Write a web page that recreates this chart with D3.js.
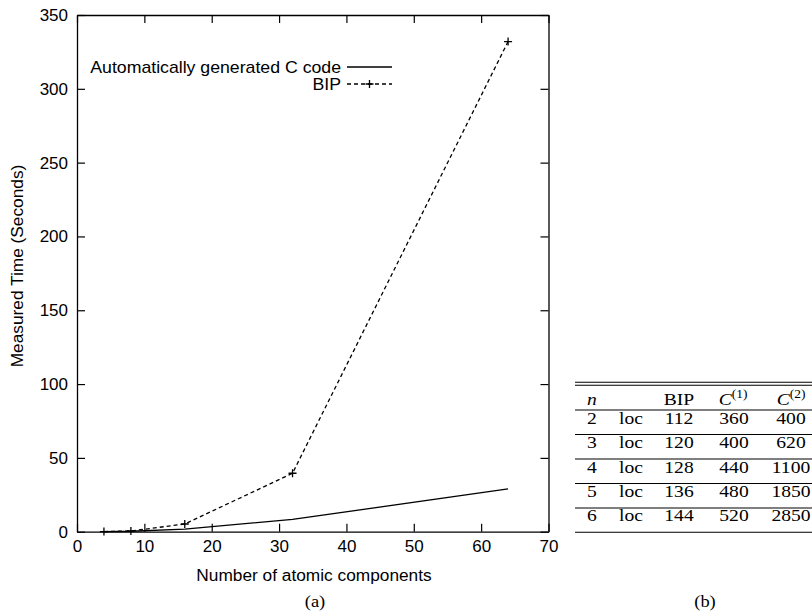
<!DOCTYPE html>
<html>
<head>
<meta charset="utf-8">
<script src="https://cdn.jsdelivr.net/npm/d3@7"></script>
<style>
  body { margin: 0; background: #fff; }
  svg { display: block; }
</style>
</head>
<body>
<div id="chartArea"></div>
<script>
// plot data
const components = [4, 8, 16, 32, 64];
const cCodeTimes = [0.1, 0.3, 1.8, 8.3, 29];
const bipTimes = [0.1, 0.5, 5.2, 39.6, 332];
const xTicks = [0, 10, 20, 30, 40, 50, 60, 70];
const yTicks = [0, 50, 100, 150, 200, 250, 300, 350];
const legendLabels = ["Automatically generated C code", "BIP"];

// table (b)
const tableHead = ["n", "", "BIP", "C(1)", "C(2)"];
const tableN = [2, 3, 4, 5, 6];
const tableLoc = ["loc", "loc", "loc", "loc", "loc"];
const tableBIP = [112, 120, 128, 136, 144];
const tableC1 = [360, 400, 440, 480, 520];
const tableC2 = [400, 620, 1100, 1850, 2850];

const W = 812, H = 613;
const sans = "'Liberation Sans', Arial, Helvetica, sans-serif";
const serif = "'Liberation Serif', 'Times New Roman', serif";

const svg = d3.select("#chartArea").append("svg")
  .attr("width", W)
  .attr("height", H);

const plotLeft = 77, plotRight = 548.5, plotTop = 15, plotBottom = 531.7;

const x = d3.scaleLinear().domain([0, 70]).range([plotLeft, plotRight]);
const y = d3.scaleLinear().domain([0, 350]).range([plotBottom, plotTop]);

// axes, ticks pointing inwards
const styleAxis = g => {
  g.selectAll("path.domain").attr("stroke", "#000").attr("stroke-width", 1.3);
  g.selectAll(".tick line").attr("stroke", "#000").attr("stroke-width", 1.2);
  g.selectAll("text").attr("font-family", sans).attr("font-size", 17).attr("fill", "#000");
};

svg.append("g")
  .attr("transform", `translate(0,${plotBottom})`)
  .call(d3.axisBottom(x).tickValues(xTicks).tickSizeInner(-8).tickSizeOuter(0).tickPadding(8))
  .call(styleAxis);

svg.append("g")
  .attr("transform", `translate(${plotLeft},0)`)
  .call(d3.axisLeft(y).tickValues(yTicks).tickSizeInner(-8).tickSizeOuter(0).tickPadding(9))
  .call(styleAxis);

svg.append("g")
  .attr("transform", `translate(0,${plotTop})`)
  .call(d3.axisTop(x).tickValues(xTicks).tickSizeInner(-8).tickSizeOuter(0).tickFormat(""))
  .call(styleAxis);

svg.append("g")
  .attr("transform", `translate(${plotRight},0)`)
  .call(d3.axisRight(y).tickValues(yTicks).tickSizeInner(-8).tickSizeOuter(0).tickFormat(""))
  .call(styleAxis);

// lines
const line = d3.line()
  .x(d => x(d[0]))
  .y(d => y(d[1]));

svg.append("path")
  .datum(d3.zip(components, cCodeTimes))
  .attr("d", line)
  .attr("fill", "none")
  .attr("stroke", "#000")
  .attr("stroke-width", 1.3);

svg.append("path")
  .datum(d3.zip(components, bipTimes))
  .attr("d", line)
  .attr("fill", "none")
  .attr("stroke", "#000")
  .attr("stroke-width", 1.3)
  .attr("stroke-dasharray", "4,3");

const plusPath = (cx, cy) => `M${cx - 4},${cy}H${cx + 4}M${cx},${cy - 4}V${cy + 4}`;

svg.selectAll("path.bipMark")
  .data(d3.zip(components, bipTimes))
  .enter()
  .append("path")
    .attr("class", "bipMark")
    .attr("d", d => plusPath(x(d[0]), y(d[1])))
    .attr("stroke", "#000")
    .attr("stroke-width", 1.3);

// legend
const legY = [67, 84];
const legX0 = 347, legX1 = 392;
svg.selectAll("text.leg")
  .data(legendLabels)
  .enter()
  .append("text")
    .attr("class", "leg")
    .attr("transform", (d, i) => `translate(341,${legY[i] + 6.3}) scale(1.08,1)`)
    .attr("text-anchor", "end")
    .attr("font-family", sans)
    .attr("font-size", 16.4)
    .text(d => d);

svg.append("line")
  .attr("x1", legX0).attr("x2", legX1)
  .attr("y1", legY[0]).attr("y2", legY[0])
  .attr("stroke", "#000").attr("stroke-width", 1.3);

svg.append("line")
  .attr("x1", legX0).attr("x2", legX1)
  .attr("y1", legY[1]).attr("y2", legY[1])
  .attr("stroke", "#000").attr("stroke-width", 1.3)
  .attr("stroke-dasharray", "4,3");

svg.append("path")
  .attr("d", plusPath((legX0 + legX1) / 2, legY[1]))
  .attr("stroke", "#000").attr("stroke-width", 1.3);

// axis titles
svg.append("text")
  .attr("x", 314).attr("y", 581)
  .attr("text-anchor", "middle")
  .attr("font-family", sans).attr("font-size", 17.3)
  .text("Number of atomic components");

svg.append("text")
  .attr("transform", "translate(23,266) rotate(-90)")
  .attr("text-anchor", "middle")
  .attr("font-family", sans).attr("font-size", 17.3)
  .text("Measured Time (Seconds)");

// table (b), serif text is a bit wider than tall in the reference
const stretch = 1.12;
const serifText = (g, tx, ty, anchor) => g.append("text")
  .attr("transform", `translate(${tx},${ty}) scale(${stretch},1)`)
  .attr("text-anchor", anchor);

serifText(svg.append("g").attr("font-family", serif).attr("font-size", 16.5), 315, 607, "middle").text("(a)");
serifText(svg.append("g").attr("font-family", serif).attr("font-size", 16.5), 705, 607, "middle").text("(b)");

const tLeft = 575, tRight = 812;
const rowLines = [410, 434.5, 459, 483.5, 508, 532.3];
const rowBase = [423.5, 448, 472.5, 497, 521];
const table = svg.append("g").attr("font-family", serif).attr("font-size", 17.5);

[382.3, 385.3].concat(rowLines).forEach(ly => {
  table.append("line")
    .attr("x1", tLeft).attr("x2", tRight)
    .attr("y1", ly).attr("y2", ly)
    .attr("stroke", "#000").attr("stroke-width", 1.1);
});

// header
serifText(table, 587, 405, "start").attr("font-style", "italic").text(tableHead[0]);
serifText(table, 679, 405, "middle").text(tableHead[2]);
[[733, "(1)"], [791, "(2)"]].forEach(([cx, sup]) => {
  const t = serifText(table, cx, 405, "middle");
  t.append("tspan").attr("font-style", "italic").text("C");
  t.append("tspan").attr("font-size", 12).attr("dy", -7).text(sup);
});

const rows = d3.range(tableN.length).map(i =>
  [tableN[i], tableLoc[i], tableBIP[i], tableC1[i], tableC2[i]]);
const colX = [587, 619, 679, 734, 791];
const colAnchor = ["start", "start", "middle", "middle", "middle"];

rows.forEach((r, i) => {
  r.forEach((v, j) => {
    serifText(table, colX[j], rowBase[i], colAnchor[j]).text(v);
  });
});
</script>
</body>
</html>
